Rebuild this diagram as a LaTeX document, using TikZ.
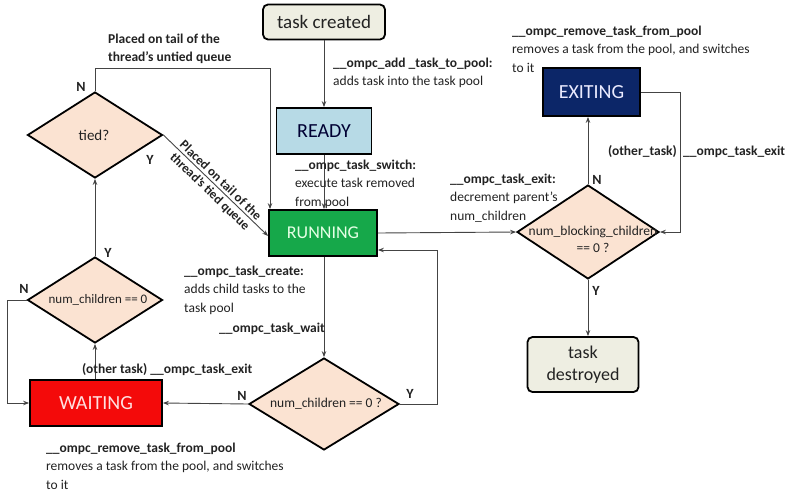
\documentclass[tikz,border=0pt]{standalone}
\usepackage{fontspec}
\setmainfont{Carlito}
\usetikzlibrary{arrows.meta,shapes.geometric}
\definecolor{peach}{HTML}{FBE3D2}
\definecolor{beige}{HTML}{EEEEE2}
\definecolor{readyblue}{HTML}{B7DAE6}
\definecolor{rungreen}{HTML}{16A84A}
\definecolor{exitnavy}{HTML}{0C2668}
\definecolor{waitred}{HTML}{F40A0A}
\definecolor{linegray}{HTML}{444444}
\definecolor{textc}{HTML}{222222}
\tikzset{
  box/.style={draw=black, line width=1.8pt, inner sep=0pt, font=\fontsize{20}{22}\selectfont},
  dia/.style={diamond, draw=black, line width=1.8pt, fill=peach, inner sep=0pt},
  diatext/.style={font=\fontsize{13.5}{17}\selectfont, text=textc, align=center, inner sep=0pt},
  conn/.style={draw=linegray, line width=0.9pt, -{Stealth[length=6pt,width=4.5pt]}},
  lbl/.style={font=\fontsize{13.5}{18.5}\selectfont, align=left, inner sep=0pt, text=textc},
  lblb/.style={font=\fontsize{13.5}{18.5}\selectfont\bfseries, align=left, inner sep=0pt, text=textc},
  slopelbl/.style={font=\fontsize{13}{15}\selectfont\bfseries, inner sep=0pt, text=textc},
  yn/.style={font=\fontsize{14}{16}\selectfont\bfseries, inner sep=0pt, text=textc}
}
\begin{document}
\begin{tikzpicture}[x=1pt,y=-1pt]
\useasboundingbox (0,0) rectangle (785,496);
% boxes
\node[box, fill=beige, rounded corners=5pt, minimum width=122pt, minimum height=35pt, text=textc, font=\fontsize{19}{22}\selectfont] (tc) at (324,22) {task created};
\node[box, fill=readyblue, minimum width=95pt, minimum height=46pt, text={black!80!blue}] (ready) at (324,131) {READY};
\node[box, fill=rungreen, minimum width=108pt, minimum height=46pt, text=white!90!green, font=\fontsize{18}{20}\selectfont] (run) at (323,233) {RUNNING};
\node[box, fill=exitnavy, minimum width=97pt, minimum height=48pt, text=white!92!blue, font=\fontsize{20}{22}\selectfont] (ex) at (591.5,92) {EXITING};
\node[box, fill=waitred, minimum width=132pt, minimum height=46pt, text=white!88!red] (wait) at (96,403) {WAITING};
\node[box, fill=beige, rounded corners=5pt, minimum width=111pt, minimum height=55pt, text=textc, align=center, font=\fontsize{18}{22}\selectfont] (td) at (583,364.5) {task\\destroyed};
% diamonds
\node[dia, minimum width=135pt, minimum height=86pt] (tied) at (95,135) {};
\node[diatext, font=\fontsize{15}{17}\selectfont] (tiedt) at (94,135) {tied?};
\node[dia, minimum width=135pt, minimum height=86pt] (nc) at (95,300) {};
\node[diatext, font=\fontsize{13}{17}\selectfont] (nct) at (98,300) {num\_children == 0};
\node[dia, minimum width=150pt, minimum height=92pt] (bd) at (324,404) {};
\node[diatext] (bdt) at (326,404) {num\_children == 0 ?};
\node[dia, minimum width=142pt, minimum height=94pt] (nb) at (588,232) {};
\node[diatext] (nbt) at (593,239) {num\_blocking\_children\\== 0 ?};
% connectors
\coordinate (c1) at (270,68);
\coordinate (c2) at (437,250);
\draw[conn] (tc.south) -- (ready.north);
\draw[conn] (ready.south) -- (ready.south |- run.north);
\draw[conn] (tied.north) |- (c1) -- (c1 |- run.north);
\draw[conn] (tied.east) -- node[sloped, above=2.5pt, slopelbl]{Placed on tail of the} node[sloped, below=2.5pt, slopelbl]{thread's tied queue} ([yshift=-3pt]run.west);
\draw[conn] (nc.north) -- (tied.south);
\draw[conn] (nc.west) -- ++(-19,0) |- (wait.west);
\draw[conn] (wait.north -| nc.south) -- (nc.south);
\draw[conn] (run.south -| bd.north) -- (bd.north);
\draw[conn] (bd.west) -- (wait.east);
\draw[conn] (bd.east) -| (c2) -- (c2 -| run.east);
\draw[conn] (run.east) -- (nb.west);
\draw[conn] (nb.north) -- (nb.north |- ex.south);
\draw[conn] (ex.east) -- ++(40,0) |- (nb.east);
\draw[conn] (nb.south) -- (nb.south |- td.north);
% labels
\node[lblb, anchor=north west] (l1) at (108,30) {\strut Placed on tail of the\\thread's untied queue};
\node[lbl, anchor=north west] (l2) at (333,54) {\strut\textbf{\_\_ompc\_add \_task\_to\_pool:}\\adds task into the task pool};
\node[lbl, anchor=north west] (l3) at (512,22) {\strut\textbf{\_\_ompc\_remove\_task\_from\_pool}\\removes a task from the pool, and switches\\to it};
\node[lbl, anchor=north west] (l4) at (295,156) {\strut\textbf{\_\_ompc\_task\_switch:}\\execute task removed\\from pool};
\node[lblb, anchor=base east] (l5a) at (677,155) {(other\_task)};
\node[lblb, anchor=base west] (l5b) at (683,155) {\_\_ompc\_task\_exit};
\node[lbl, anchor=north west] (l6) at (450,170) {\strut\textbf{\_\_ompc\_task\_exit:}\\decrement parent's\\num\_children};
\node[lbl, anchor=north west] (l7) at (184,262) {\strut\textbf{\_\_ompc\_task\_create:}\\adds child tasks to the\\task pool};
\node[lblb, anchor=base west] (l8) at (219,332) {\_\_ompc\_task\_wait};
\node[lblb, anchor=base west] (l9) at (82,373) {(other task) \_\_ompc\_task\_exit};
\node[lbl, anchor=north west] (l10) at (46,439) {\strut\textbf{\_\_ompc\_remove\_task\_from\_pool}\\removes a task from the pool, and switches\\to it};
% Y / N
\node[yn] (n1) at (81,87) {N};
\node[yn] (y1) at (150,160) {Y};
\node[yn] (y2) at (108,253) {Y};
\node[yn] (n2) at (24,289) {N};
\node[yn] (n3) at (242,396) {N};
\node[yn] (y3) at (410,394) {Y};
\node[yn] (n4) at (597,180) {N};
\node[yn] (y4) at (596,291) {Y};
\end{tikzpicture}
\end{document}
